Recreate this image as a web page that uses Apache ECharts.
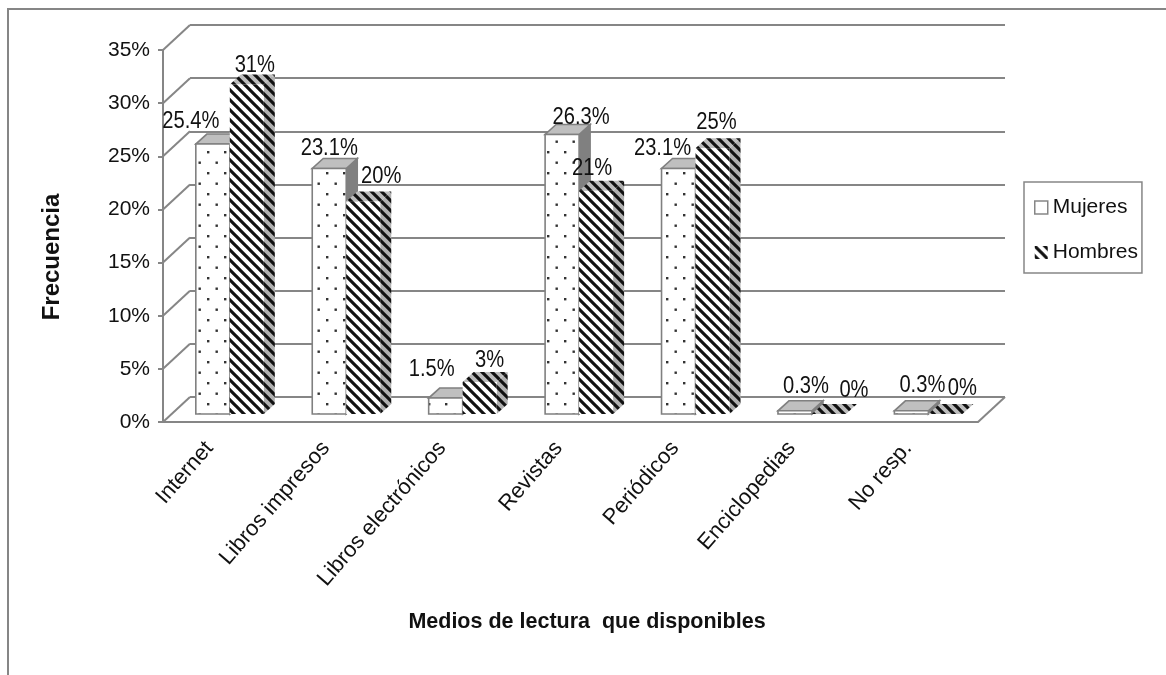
<!DOCTYPE html>
<html><head><meta charset="utf-8">
<style>html,body{margin:0;padding:0;background:#fff}#c{width:1166px;height:675px}</style>
<script src="https://cdn.jsdelivr.net/npm/echarts@6/dist/echarts.min.js"></script>
</head><body><div id="c"></div>
<script>
const categories = ['Internet','Libros impresos','Libros electrónicos','Revistas','Periódicos','Enciclopedias','No resp.'];
const mujeres = [25.4,23.1,1.5,26.3,23.1,0.3,0.3];
const hombres = [31,20,3,21,25,0,0];
const yTicks = [0,5,10,15,20,25,30,35];

// layout of the pseudo-3D drawing
const WALL = [27,-25], BAR_SHIFT = [8.6,-8], BAR_DEPTH = [11,-10], BAR_RATIO = 0.292;
const GREY = '#868686', FONT = '"Liberation Sans", Arial, sans-serif';
const mujeresNudge = [[-22,-23],[0,-20],[-14,-29],[19,-17],[-16,-20],[11,-24],[11,-25]];
const hombresNudge = [[8,-19],[18,-25],[10,-22],[-4,-22],[4,-26],[25,-24],[17,-26]];

function tile(w,h,draw){const c=document.createElement('canvas');c.width=w;c.height=h;draw(c.getContext('2d'));return {image:c,repeat:'repeat'};}
function stripes(light,dark){return tile(10,10,g=>{
  g.fillStyle=light;g.fillRect(0,0,10,10);
  g.strokeStyle=dark;g.lineWidth=3.1;
  [-10,0,10,20].forEach(s=>{g.beginPath();g.moveTo(s-5,-5);g.lineTo(s+15,15);g.stroke();});
});}
function dots(bg){return tile(17,21,g=>{
  g.fillStyle=bg;g.fillRect(0,0,17,21);
  g.fillStyle='#333';
  g.fillRect(3,4,2.4,2.4);g.fillRect(11.5,14.5,2.4,2.4);
});}
const dotFront = dots('#ffffff');
const dotSide = '#808080', dotTop = '#bfbfbf';
const stripeFront = stripes('#ffffff','#111111');
const stripeSide = stripes('#b0b0b0','#111111');
const stripeTop = stripes('#bdbdbd','#111111');

function poly(points,style){return {type:'polygon',shape:{points},style};}
function barRenderer(side,nudge,looks){
  return function(params,api){
    const i=api.value(0), v=api.value(1);
    const base=api.coord([i,0]), top=api.coord([i,v]);
    const w=api.size([1,0])[0]*BAR_RATIO;
    const x0=base[0]+BAR_SHIFT[0]+(side<0?-w:0), x1=x0+w;
    const yb=base[1]+BAR_SHIFT[1], yt=top[1]+BAR_SHIFT[1];
    const [dx,dy]=BAR_DEPTH;
    const line=looks.stroke?{stroke:looks.stroke,lineWidth:1.6,lineJoin:'miter'}:{};
    const kids=[
      poly([[x1,yb],[x1+dx,yb+dy],[x1+dx,yt+dy],[x1,yt]],Object.assign({fill:looks.side},line)),
      poly([[x0,yt],[x1,yt],[x1+dx,yt+dy],[x0+dx,yt+dy]],Object.assign({fill:looks.top},line)),
      poly([[x0,yb],[x1,yb],[x1,yt],[x0,yt]],Object.assign({fill:looks.front},line)),
      {type:'text',z2:50,x:(x0+x1)/2+nudge[i][0],y:yt+nudge[i][1],scaleX:0.84,
       style:{text:v+'%',x:0,y:0,align:'center',verticalAlign:'middle',font:'24px '+FONT,fill:'#111'}}
    ];
    return {type:'group',children:kids};
  };
}
function structureRenderer(params,api){
  const c=params.coordSys, v=api.value(0), p=[c.x,api.coord([0,v])[1]];
  const kids=[{type:'line',shape:{x1:p[0],y1:p[1],x2:p[0]+WALL[0],y2:p[1]+WALL[1]},style:{stroke:GREY,lineWidth:2}}];
  if(v===0) kids.push({type:'line',shape:{x1:p[0]+c.width,y1:p[1],x2:p[0]+c.width+WALL[0],y2:p[1]+WALL[1]},style:{stroke:GREY,lineWidth:2}});
  return {type:'group',children:kids};
}
const chart=echarts.init(document.getElementById('c'),null,{renderer:'canvas'});
chart.setOption({
  animation:false,backgroundColor:'#fff',
  graphic:[{type:'polyline',silent:true,z:-1,shape:{points:[[8,675],[8,9],[1166,9]]},style:{fill:'none',stroke:GREY,lineWidth:2}}],
  legend:{
    orient:'vertical',left:1024,top:182,padding:[15,4,10,10],itemWidth:13,itemHeight:13,itemGap:24,
    borderColor:GREY,borderWidth:1.5,backgroundColor:'#fff',
    textStyle:{fontFamily:FONT,fontSize:21,color:'#111'},
    data:[
      {name:'Mujeres',icon:'rect',itemStyle:{color:'#fff',borderColor:GREY,borderWidth:1.5}},
      {name:'Hombres',icon:'rect',itemStyle:{color:stripeFront,borderWidth:0}}
    ]
  },
  grid:[
    {left:163,right:188,top:50,bottom:253},
    {left:190,right:161,top:25,bottom:278}
  ],
  xAxis:[
    {type:'category',gridIndex:0,data:categories,
     axisLine:{lineStyle:{color:GREY,width:2}},axisTick:{show:false},splitLine:{show:false},
     axisLabel:{rotate:49,margin:9,interval:0,fontFamily:FONT,fontSize:22,color:'#111',padding:[0,18,0,0]},
     name:'Medios de lectura  que disponibles',nameLocation:'middle',nameGap:189,
     nameTextStyle:{fontFamily:FONT,fontWeight:'bold',fontSize:21.5,color:'#111',padding:[0,0,0,33]}},
    {type:'category',gridIndex:1,data:categories,show:false}
  ],
  yAxis:[
    {type:'value',gridIndex:0,min:0,max:35,interval:5,
     axisLine:{show:true,lineStyle:{color:GREY,width:2}},axisTick:{show:true,length:5,lineStyle:{color:GREY,width:2}},
     splitLine:{show:false},
     axisLabel:{margin:13,formatter:'{value}%',fontFamily:FONT,fontSize:21,color:'#111',padding:[4,0,0,0]},
     name:'Frecuencia',nameLocation:'middle',nameGap:99,nameRotate:90,
     nameTextStyle:{fontFamily:FONT,fontWeight:'bold',fontSize:24,color:'#111',padding:[0,0,0,-42]}},
    {type:'value',gridIndex:1,min:0,max:35,interval:5,
     axisLine:{show:false},axisTick:{show:false},axisLabel:{show:false},
     splitLine:{show:true,lineStyle:{color:GREY,width:2}}}
  ],
  series:[
    {type:'custom',name:'structure',xAxisIndex:0,yAxisIndex:0,silent:true,clip:false,z:1,
     data:yTicks.map(t=>[t]),encode:{x:-1,y:0},renderItem:structureRenderer},
    {type:'custom',name:'Mujeres',xAxisIndex:0,yAxisIndex:0,clip:false,z:3,
     itemStyle:{color:'#fff'},
     data:mujeres.map((v,i)=>[i,v]),encode:{x:0,y:1},
     renderItem:barRenderer(-1,mujeresNudge,{front:dotFront,side:dotSide,top:dotTop,stroke:'#808080'})},
    {type:'custom',name:'Hombres',xAxisIndex:0,yAxisIndex:0,clip:false,z:4,
     itemStyle:{color:'#111'},
     data:hombres.map((v,i)=>[i,v]),encode:{x:0,y:1},
     renderItem:barRenderer(1,hombresNudge,{front:stripeFront,side:stripeSide,top:stripeTop})}
  ]
});
</script></body></html>
